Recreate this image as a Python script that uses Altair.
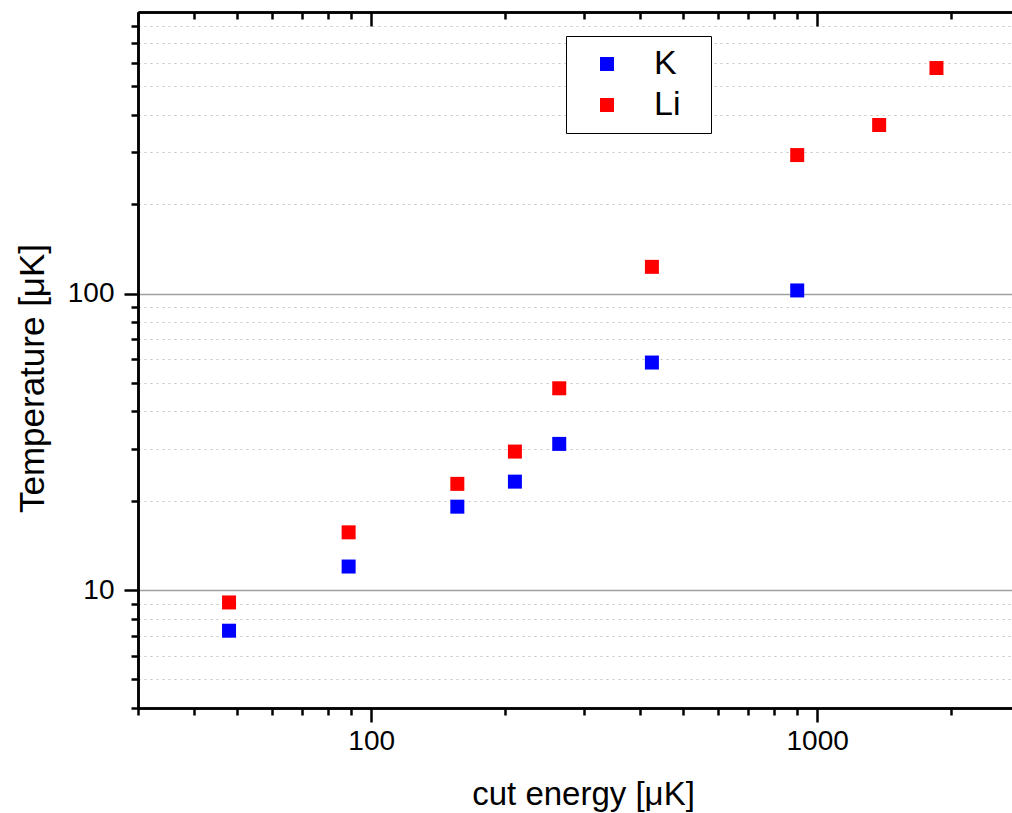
import altair as alt
import pandas as pd

# ---- data ----
cut_K = [48, 89, 156, 210, 264, 426, 902]
temp_K = [7.29, 12.0, 19.1, 23.2, 31.1, 58.5, 102.4]
cut_Li = [48, 89, 156, 210, 264, 426, 902, 1377, 1851]
temp_Li = [9.08, 15.65, 22.8, 29.3, 47.9, 123, 293, 370, 576]
species = ["K", "Li"]
colors = ["#0000ff", "#ff0000"]

x_major = [100, 1000]
x_minor = [30, 40, 50, 60, 70, 80, 90, 200, 300, 400, 500, 600, 700, 800, 900, 2000]
y_major = [10, 100]
y_minor = [4, 5, 6, 7, 8, 9, 20, 30, 40, 50, 60, 70, 80, 90, 200, 300, 400, 500, 600, 700, 800]

x_title = "cut energy [μK]"
y_title = "Temperature [μK]"

df = pd.DataFrame({
    "cut": cut_K + cut_Li,
    "T": temp_K + temp_Li,
    "species": ["K"] * len(cut_K) + ["Li"] * len(cut_Li),
})

FONT = "Liberation Sans"
W, H = 874, 696

xscale = alt.Scale(type="log", domain=[30, 2734], nice=False)
yscale = alt.Scale(type="log", domain=[4, 890], nice=False)

common = dict(domainColor="black", domainWidth=2.5, tickColor="black", tickWidth=2.5)

base = alt.Chart(df)

points = base.mark_square(size=196, opacity=1).encode(
    x=alt.X("cut:Q", scale=xscale, axis=alt.Axis(
        orient="bottom", values=x_major, tickSize=14, format="d", grid=False,
        labelFont=FONT, labelFontSize=28, labelColor="black", labelPadding=5,
        title=x_title, titleFont=FONT, titleFontSize=33, titleFontWeight="normal",
        titleColor="black", titlePadding=23, titleX=445, **common)),
    y=alt.Y("T:Q", scale=yscale, axis=alt.Axis(
        orient="left", values=y_major, tickSize=14, format="d", grid=True,
        gridColor="#a0a0a0", gridWidth=1.3,
        labelFont=FONT, labelFontSize=28, labelColor="black", labelPadding=10,
        title=y_title, titleFont=FONT, titleFontSize=35, titleFontWeight="normal",
        titleColor="black", titlePadding=17, titleY=366, **common)),
    color=alt.Color("species:N", scale=alt.Scale(domain=species, range=colors),
                    legend=alt.Legend(
                        title=None, orient="none", legendX=428, legendY=24,
                        strokeColor="black", fillColor="white", padding=11,
                        symbolType="square", symbolSize=196, symbolOffset=13,
                        symbolStrokeWidth=0, symbolOpacity=1,
                        labelOffset=30, labelFont=FONT, labelFontSize=34,
                        labelExpr="datum.label + '\u00a0\u00a0\u200b'",
                        labelColor="black", rowPadding=7)),
)

minor = base.mark_square(opacity=0).encode(
    x=alt.X("cut:Q", scale=xscale, axis=alt.Axis(
        orient="bottom", values=x_minor, tickSize=7, labels=False, title=None,
        grid=False, **common)),
    y=alt.Y("T:Q", scale=yscale, axis=alt.Axis(
        orient="left", values=y_minor, tickSize=7, labels=False, title=None, grid=True,
        gridColor="#c4c4c4", gridDash=[2, 4], gridWidth=1.2, **common)),
)

top_minor = base.mark_square(opacity=0).encode(
    x=alt.X("cut:Q", scale=xscale, axis=alt.Axis(
        orient="bottom", offset=-H, values=x_minor, tickSize=7, labels=False,
        title=None, grid=False, **common)),
    y=alt.Y("T:Q", scale=yscale, axis=None),
)

top_major = base.mark_square(opacity=0).encode(
    x=alt.X("cut:Q", scale=xscale, axis=alt.Axis(
        orient="bottom", offset=-H, values=x_major, tickSize=14, labels=False,
        title=None, grid=False, **common)),
    y=alt.Y("T:Q", scale=yscale, axis=None),
)

chart = alt.layer(minor, top_minor, top_major, points).resolve_axis(
    x="independent", y="independent"
).properties(
    width=W, height=H,
    autosize=alt.AutoSizeParams(type="none"),
    padding={"left": 138, "top": 12, "right": 0, "bottom": 105},
    background="white",
).configure_view(stroke=None)

chart.save("out.html", embed_options={"renderer": "svg", "actions": False})
